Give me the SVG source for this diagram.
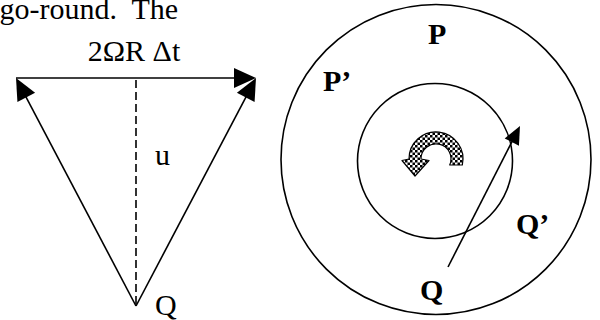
<svg xmlns="http://www.w3.org/2000/svg" width="600" height="320" viewBox="0 0 600 320">
<style>
.t{font-family:"Liberation Serif","Times New Roman",serif;font-size:30px;fill:#000}
.b{font-weight:bold}
.ln{stroke:#000;stroke-width:1.6;fill:none}
</style>
<defs>
<marker id="ah" markerUnits="userSpaceOnUse" markerWidth="22" markerHeight="20" refX="10" refY="10" orient="auto" overflow="visible">
<path d="M0,0 L22,10 L0,20 Z" fill="#000"/>
</marker>
<marker id="ah2" markerUnits="userSpaceOnUse" markerWidth="18" markerHeight="16" refX="8" refY="8" orient="auto" overflow="visible">
<path d="M0,0 L18,8 L0,16 Z" fill="#000"/>
</marker>
<pattern id="chk" width="5" height="5" patternUnits="userSpaceOnUse">
<rect width="5" height="5" fill="#fff"/>
<rect width="2.5" height="2.5" fill="#000"/>
<rect x="2.5" y="2.5" width="2.5" height="2.5" fill="#000"/>
</pattern>
</defs>
<rect width="600" height="320" fill="#fff"/>
<text class="t" x="-0.5" y="19" xml:space="preserve">go-round.  The</text>
<g id="connectors">
<line class="ln" x1="16" y1="78" x2="244" y2="78" stroke-width="2" marker-end="url(#ah)"/>
<line class="ln" x1="136" y1="306" x2="21.6" y2="88.6" marker-end="url(#ah)"/>
<line class="ln" x1="136" y1="306" x2="250.4" y2="88.6" marker-end="url(#ah)"/>
<line class="ln" x1="136" y1="80" x2="136" y2="306" stroke-width="1.8" stroke-dasharray="8 4"/>
<line class="ln" x1="448" y1="267" x2="515.45" y2="134.9" marker-end="url(#ah2)"/>
</g>
<g id="labels-left">
<text class="t" x="134" y="61" text-anchor="middle">2ΩR Δt</text>
<text class="t" x="155" y="165">u</text>
<text class="t" x="155" y="315">Q</text>
</g>
<g id="outer-circle"><circle class="ln" cx="436" cy="159.5" r="155"/></g>
<g id="inner-circle"><circle class="ln" cx="435" cy="161" r="77.5"/></g>
<g id="rotation-icon">
<path d="M462.3,165 A27,27 0 1 0 409,159 L402,160.5 L415,176 L429,160.5 L421,159 A15,15 0 1 1 449.7,165 Z" fill="url(#chk)" stroke="#000" stroke-width="1.2" stroke-linejoin="round"/>
</g>
<g id="labels-right">
<text class="t b" x="428" y="44">P</text>
<text class="t b" x="323" y="91">P’</text>
<text class="t b" x="516" y="234">Q’</text>
<text class="t b" x="420" y="300">Q</text>
</g>
</svg>
